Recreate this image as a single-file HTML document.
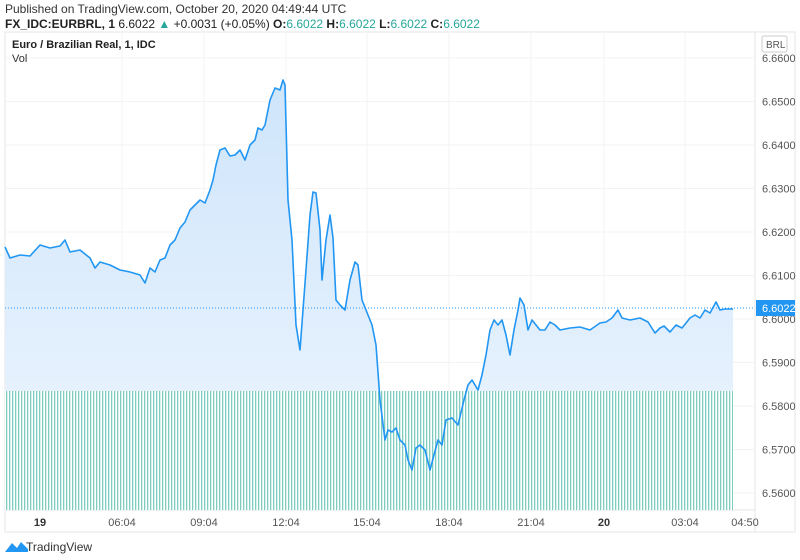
<!DOCTYPE html>
<html><head><meta charset="utf-8"><style>
body{margin:0;width:800px;height:560px;background:#fff;font-family:"Liberation Sans",sans-serif;overflow:hidden;position:relative}
.t{position:absolute;white-space:nowrap}
</style></head><body>
<div class="t" style="left:5px;top:2px;font-size:12px;color:#333">Published on TradingView.com, October 20, 2020 04:49:44 UTC</div>
<div class="t" style="left:5px;top:17px;font-size:12px;color:#222"><b>FX_IDC:EURBRL, 1</b> 6.6022 <span style="color:#26a69a">▲</span> +0.0031 (+0.05%) <b>O:</b><span style="color:#26a69a">6.6022</span> <b>H:</b><span style="color:#26a69a">6.6022</span> <b>L:</b><span style="color:#26a69a">6.6022</span> <b>C:</b><span style="color:#26a69a">6.6022</span></div>
<svg width="800" height="560" style="position:absolute;left:0;top:0">
<defs>
<linearGradient id="g" x1="0" y1="0" x2="0" y2="1"><stop offset="0" stop-color="#cfe5fb"/><stop offset="1" stop-color="#eef6fe"/></linearGradient>
<pattern id="v" width="3" height="10" patternUnits="userSpaceOnUse"><rect x="0" width="1.3" height="10" fill="#7ecdc0"/></pattern>
</defs>
<rect x="5" y="32" width="790" height="500" fill="none" stroke="#e6e6e6"/>
<line x1="755" y1="32" x2="755" y2="532" stroke="#e6e6e6"/>
<line x1="5" y1="510" x2="755" y2="510" stroke="#e6e6e6"/>
<g stroke="#f3f3f3">
<line x1="5" y1="58" x2="755" y2="58"/><line x1="5" y1="101.5" x2="755" y2="101.5"/><line x1="5" y1="145" x2="755" y2="145"/><line x1="5" y1="188.5" x2="755" y2="188.5"/><line x1="5" y1="232" x2="755" y2="232"/><line x1="5" y1="275.5" x2="755" y2="275.5"/><line x1="5" y1="319" x2="755" y2="319"/><line x1="5" y1="362.5" x2="755" y2="362.5"/><line x1="5" y1="406" x2="755" y2="406"/><line x1="5" y1="449.5" x2="755" y2="449.5"/><line x1="5" y1="493" x2="755" y2="493"/>
<line x1="122" y1="32" x2="122" y2="510"/><line x1="204" y1="32" x2="204" y2="510"/><line x1="286" y1="32" x2="286" y2="510"/><line x1="367" y1="32" x2="367" y2="510"/><line x1="449" y1="32" x2="449" y2="510"/><line x1="531" y1="32" x2="531" y2="510"/><line x1="604" y1="32" x2="604" y2="510"/><line x1="685" y1="32" x2="685" y2="510"/>
</g>
<polygon fill="url(#g)" points="5,510 5,247 10,258 20,255 30,256 40,245 50,248 60,246 65,240 70,252 80,250 90,258 95,268 100,262 110,265 120,270 130,272 140,275 145,283 150,268 155,272 160,260 165,258 170,245 175,240 180,228 185,222 190,210 195,205 200,200 205,203 210,190 213,180 216,165 220,150 225,148 230,156 235,155 240,150 245,160 250,145 255,140 258,128 262,130 265,125 270,100 275,88 280,90 283,80 285,85 288,200 292,240 296,325 300,350 303,310 306,270 310,215 313,192 316,193 320,230 322,280 326,240 330,215 333,238 336,300 340,305 345,310 350,280 355,262 358,265 362,300 368,315 372,325 376,345 380,400 385,440 388,430 392,432 396,428 400,440 405,445 408,460 412,470 416,448 420,445 425,450 430,470 434,455 438,440 442,445 446,420 452,418 458,425 464,400 468,385 472,380 478,390 482,375 486,355 490,330 494,320 498,325 502,320 506,335 510,355 514,330 518,310 520,298 524,305 528,330 532,320 536,325 540,330 545,330 550,322 555,325 560,330 570,328 580,327 590,330 600,323 606,322 612,318 618,310 622,318 630,320 640,318 648,322 655,333 660,328 664,326 670,332 676,325 682,328 690,318 695,315 700,318 705,310 710,313 716,302 720,310 725,309 733,309 733,510"/>
<rect x="5" y="391" width="728" height="119" fill="#fff"/>
<rect x="5" y="391" width="728" height="119" fill="url(#v)"/>
<line x1="5" y1="308" x2="755" y2="308" stroke="#2196f3" stroke-width="1" stroke-dasharray="1,2"/>
<polyline fill="none" stroke="#2196f3" stroke-width="1.6" stroke-linejoin="round" points="5,247 10,258 20,255 30,256 40,245 50,248 60,246 65,240 70,252 80,250 90,258 95,268 100,262 110,265 120,270 130,272 140,275 145,283 150,268 155,272 160,260 165,258 170,245 175,240 180,228 185,222 190,210 195,205 200,200 205,203 210,190 213,180 216,165 220,150 225,148 230,156 235,155 240,150 245,160 250,145 255,140 258,128 262,130 265,125 270,100 275,88 280,90 283,80 285,85 288,200 292,240 296,325 300,350 303,310 306,270 310,215 313,192 316,193 320,230 322,280 326,240 330,215 333,238 336,300 340,305 345,310 350,280 355,262 358,265 362,300 368,315 372,325 376,345 380,400 385,440 388,430 392,432 396,428 400,440 405,445 408,460 412,470 416,448 420,445 425,450 430,470 434,455 438,440 442,445 446,420 452,418 458,425 464,400 468,385 472,380 478,390 482,375 486,355 490,330 494,320 498,325 502,320 506,335 510,355 514,330 518,310 520,298 524,305 528,330 532,320 536,325 540,330 545,330 550,322 555,325 560,330 570,328 580,327 590,330 600,323 606,322 612,318 618,310 622,318 630,320 640,318 648,322 655,333 660,328 664,326 670,332 676,325 682,328 690,318 695,315 700,318 705,310 710,313 716,302 720,310 725,309 733,309"/>
<g font-size="11" fill="#555" font-family="Liberation Sans,sans-serif">
<text x="762" y="62">6.6600</text><text x="762" y="105.5">6.6500</text><text x="762" y="149">6.6400</text><text x="762" y="192.5">6.6300</text><text x="762" y="236">6.6200</text><text x="762" y="279.5">6.6100</text><text x="762" y="323">6.6000</text><text x="762" y="366.5">6.5900</text><text x="762" y="410">6.5800</text><text x="762" y="453.5">6.5700</text><text x="762" y="497">6.5600</text>
</g>
<rect x="756" y="300" width="39" height="16" fill="#2196f3"/>
<text x="762" y="312" font-size="11" fill="#fff" font-family="Liberation Sans,sans-serif">6.6022</text>
<rect x="762" y="36" width="25" height="16" fill="#fff" stroke="#ccc" rx="2"/>
<text x="766" y="48" font-size="10" fill="#555" font-family="Liberation Sans,sans-serif">BRL</text>
<g font-size="11" fill="#555" text-anchor="middle" font-family="Liberation Sans,sans-serif">
<text x="40" y="526" font-weight="bold" fill="#333">19</text><text x="122" y="526">06:04</text><text x="204" y="526">09:04</text><text x="286" y="526">12:04</text><text x="367" y="526">15:04</text><text x="449" y="526">18:04</text><text x="531" y="526">21:04</text><text x="604" y="526" font-weight="bold" fill="#333">20</text><text x="685" y="526">03:04</text><text x="745" y="526">04:50</text>
</g>
<path d="M5,552 L12,543 L17,548 L21,542 L28,549 L28,552 Z" fill="#2196f3"/>
<text x="26" y="551" font-size="12" fill="#333" font-family="Liberation Sans,sans-serif">TradingView</text>
</svg>
<div class="t" style="left:12px;top:39px;font-size:11px;font-weight:bold;color:#222">Euro / Brazilian Real, 1, IDC</div>
<div class="t" style="left:12px;top:53px;font-size:11px;color:#333">Vol</div>
</body></html>
